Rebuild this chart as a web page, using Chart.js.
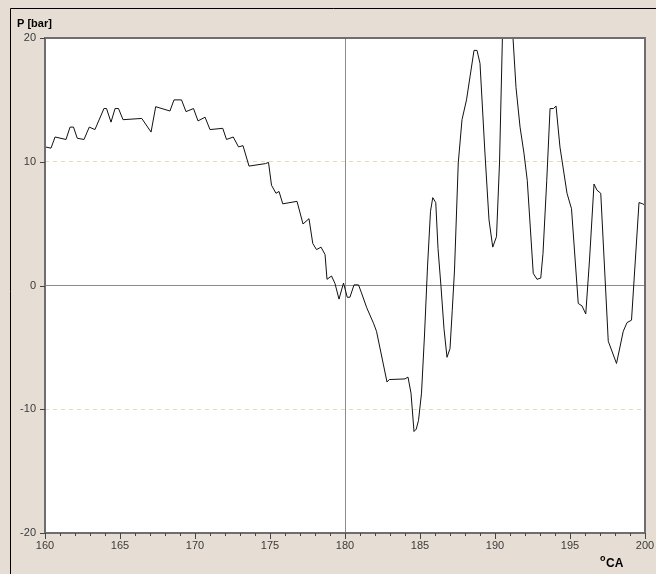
<!DOCTYPE html>
<html>
<head>
<meta charset="utf-8">
<script src="https://cdn.jsdelivr.net/npm/chart.js@4/dist/chart.umd.min.js"></script>
<style>
  html, body { margin: 0; padding: 0; background: #e6ded4; }
  #wrap { width: 656px; height: 574px; position: relative; }
</style>
</head>
<body>
<div id="wrap"><canvas id="c" width="656" height="574"></canvas></div>
<script>
// Crank angle [°CA] and cylinder pressure [bar]
const angle = [
  160.0, 160.4, 160.67, 161.4, 161.67, 161.9, 162.15, 162.6, 162.95, 163.33,
  163.93, 164.1, 164.4, 164.67, 164.9, 165.2, 166.45, 167.07, 167.38, 168.33,
  168.6, 169.1, 169.4, 169.9, 170.2, 170.67, 171.0, 171.85, 172.1, 172.55,
  172.9, 173.2, 173.6, 174.7, 174.9, 175.1, 175.4, 175.6, 175.85, 176.8,
  177.2, 177.6, 177.85, 178.1, 178.4, 178.67, 178.8, 179.1, 179.33, 179.6,
  179.9, 180.15, 180.33, 180.6, 180.9, 181.1, 181.45, 181.9, 182.1, 182.8,
  182.95, 184.0, 184.2, 184.4, 184.6, 184.75, 184.9, 185.1, 185.3, 185.5,
  185.7, 185.85, 186.05, 186.2, 186.4, 186.6, 186.8, 187.0, 187.15, 187.3,
  187.55, 187.8, 188.1, 188.35, 188.6, 188.8, 189.0, 189.33, 189.6, 189.85,
  190.1, 190.3, 190.5, 190.7, 190.95, 191.15, 191.4, 191.67, 191.93, 192.15,
  192.55, 192.8, 193.05, 193.2, 193.45, 193.67, 193.9, 194.07, 194.33, 194.8,
  195.1, 195.55, 195.8, 196.05, 196.3, 196.6, 196.8, 197.05, 197.55, 198.1,
  198.55, 198.8, 199.1, 199.6, 199.85, 199.97, 200.0
];
const pressure = [
  11.2, 11.1, 12.0, 11.8, 12.8, 12.8, 11.9, 11.8, 12.8, 12.6,
  14.3, 14.3, 13.2, 14.3, 14.3, 13.4, 13.5, 12.4, 14.45, 14.1,
  15.0, 15.0, 14.05, 14.3, 13.3, 13.6, 12.6, 12.7, 11.8, 12.0,
  11.2, 11.3, 9.65, 9.85, 9.95, 8.1, 7.45, 7.6, 6.6, 6.8,
  4.97, 5.4, 3.4, 2.9, 3.1, 2.5, 0.5, 0.77, 0.17, -1.1,
  0.2, -0.95, -0.95, 0.05, 0.05, -0.6, -1.8, -3.05, -3.7, -7.8,
  -7.6, -7.55, -7.4, -8.7, -11.8, -11.6, -10.9, -8.7, -4.0, 1.5,
  6.0, 7.1, 6.7, 3.0, -0.1, -3.5, -5.8, -5.1, -2.0, 1.25,
  9.9, 13.4, 15.0, 17.0, 19.0, 19.0, 17.95, 10.7, 5.3, 3.1,
  3.95, 9.9, 20.3, 22.5, 22.8, 21.0, 16.0, 12.8, 10.7, 8.5,
  0.98, 0.5, 0.6, 2.6, 8.5, 14.3, 14.3, 14.5, 11.2, 7.45,
  6.2, -1.45, -1.65, -2.3, 2.06, 8.2, 7.7, 7.45, -4.5, -6.3,
  -3.7, -3.0, -2.8, 6.7, 6.6, 6.5, 5.3
];
const xTickLabels = ['160', '165', '170', '175', '180', '185', '190', '195', '200'];
const yTickLabels = ['-20', '-10', '0', '10', '20'];

const points = angle.map((a, i) => ({ x: a, y: pressure[i] }));

const FONT = "'Liberation Sans', Arial, sans-serif";
const BG = '#e6ded4';

// Background, outer frame, plot frame, axis ticks and titles
const framePlugin = {
  id: 'frame',
  beforeDraw(chart) {
    const { ctx, chartArea: a } = chart;
    ctx.save();
    ctx.fillStyle = BG;
    ctx.fillRect(0, 0, chart.width, chart.height);
    // outer window edge
    ctx.strokeStyle = '#000';
    ctx.lineWidth = 1;
    ctx.beginPath();
    ctx.moveTo(10.5, chart.height);
    ctx.lineTo(10.5, 8.5);
    ctx.lineTo(chart.width, 8.5);
    ctx.stroke();
    // plot area
    ctx.fillStyle = '#ffffff';
    ctx.fillRect(a.left, a.top, a.right - a.left, a.bottom - a.top);
    ctx.restore();
  },
  afterDraw(chart) {
    const { ctx, chartArea: a } = chart;
    const xs = chart.scales.x, ys = chart.scales.y;
    ctx.save();
    // plot frame
    ctx.strokeStyle = '#6e6e6e';
    ctx.lineWidth = 2;
    ctx.strokeRect(a.left, a.top, a.right - a.left, a.bottom - a.top);
    // x ticks: minor every degree, longer at every 5th
    ctx.strokeStyle = '#444';
    ctx.lineWidth = 1;
    ctx.beginPath();
    xs.ticks.forEach(t => {
      const px = Math.round(xs.getPixelForValue(t.value)) + 0.5;
      const len = (t.value % 5 === 0) ? 6 : 3;
      ctx.moveTo(px, a.bottom);
      ctx.lineTo(px, a.bottom + len);
    });
    // y ticks
    ys.ticks.forEach(t => {
      const py = Math.round(ys.getPixelForValue(t.value)) + 0.5;
      ctx.moveTo(a.left - 5, py);
      ctx.lineTo(a.left, py);
    });
    ctx.stroke();
    // axis titles
    ctx.fillStyle = '#000';
    ctx.textBaseline = 'alphabetic';
    ctx.textAlign = 'left';
    ctx.font = "bold 11px " + FONT;
    ctx.fillText('P [bar]', 17, 27);
    ctx.font = "bold 9px " + FONT;
    ctx.fillText('o', 600, 561);
    ctx.font = "bold 12px " + FONT;
    ctx.fillText('CA', 606, 567);
    ctx.restore();
  }
};

new Chart(document.getElementById('c'), {
  type: 'scatter',
  data: {
    datasets: [{
      data: points,
      showLine: true,
      borderColor: '#111',
      borderWidth: 1,
      pointRadius: 0,
      tension: 0,
      fill: false
    }]
  },
  options: {
    responsive: false,
    animation: false,
    events: [],
    layout: { padding: { left: 0, top: 38, right: 11, bottom: 0 } },
    plugins: { legend: { display: false }, tooltip: { enabled: false } },
    scales: {
      x: {
        type: 'linear',
        min: 160,
        max: 200,
        afterFit(scale) {
          scale.height = 41;
          scale.paddingLeft = 0;
          scale.paddingRight = 0;
        },
        afterBuildTicks(scale) {
          const t = [];
          for (let v = 160; v <= 200; v++) t.push({ value: v });
          scale.ticks = t;
        },
        ticks: {
          autoSkip: false,
          maxRotation: 0,
          padding: 6,
          color: '#3a3a3a',
          font: { family: FONT, size: 11 },
          callback(v) {
            const i = xTickLabels.indexOf(String(v));
            return i >= 0 ? xTickLabels[i] : '';
          }
        },
        grid: {
          drawTicks: false,
          lineWidth: 1,
          color(ctx) {
            return ctx.tick && ctx.tick.value === 180 ? '#8c8c8c' : 'rgba(0,0,0,0)';
          }
        },
        border: { display: false }
      },
      y: {
        type: 'linear',
        min: -20,
        max: 20,
        afterFit(scale) {
          scale.width = 45;
          scale.paddingTop = 0;
          scale.paddingBottom = 0;
        },
        afterBuildTicks(scale) {
          scale.ticks = yTickLabels.map(s => ({ value: Number(s) }));
        },
        ticks: {
          padding: 9,
          color: '#3a3a3a',
          font: { family: FONT, size: 11 },
          callback(v) {
            const i = yTickLabels.indexOf(String(v));
            return i >= 0 ? yTickLabels[i] : '';
          }
        },
        grid: {
          drawTicks: false,
          lineWidth: 1,
          color(ctx) {
            if (!ctx.tick) return 'rgba(0,0,0,0)';
            const v = ctx.tick.value;
            if (v === 0) return '#8c8c8c';
            if (v === 10 || v === -10) return '#e8d8c6';
            return 'rgba(0,0,0,0)';
          }
        },
        border: {
          display: false,
          dash(ctx) {
            if (ctx.tick && (ctx.tick.value === 10 || ctx.tick.value === -10)) return [4, 4];
            return [];
          }
        }
      }
    }
  },
  plugins: [framePlugin]
});
</script>
</body>
</html>
